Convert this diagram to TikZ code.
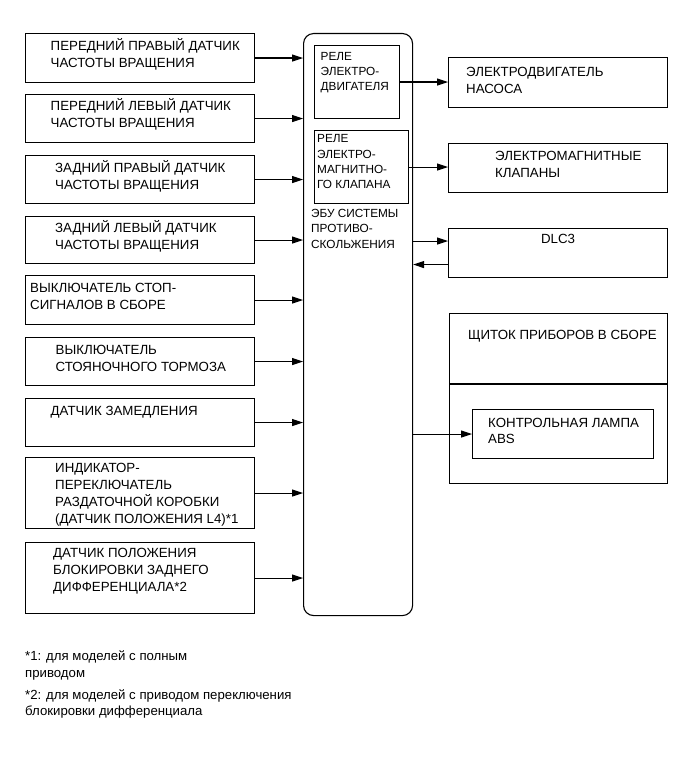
\documentclass[tikz,border=0pt]{standalone}
\usepackage{fontspec}
\setmainfont{Liberation Sans}
\usetikzlibrary{arrows.meta}
\tikzset{
  blk/.style={draw, line width=1.1pt, anchor=north west, inner sep=0pt},
  lbl/.style={anchor=base west, align=left, inner sep=0pt, font=\fontsize{13.3}{17.3}\selectfont},
  rel/.style={anchor=base west, align=left, inner sep=0pt, font=\fontsize{11.8}{15.2}\selectfont},
  note/.style={anchor=base west, align=left, inner sep=0pt, font=\fontsize{13.2}{16.5}\selectfont},
  sig/.style={line width=1.1pt, -{Triangle[length=11pt,width=7pt]}}
}

\begin{document}
\begin{tikzpicture}[x=1pt,y=-1pt]
		\useasboundingbox (0,0) rectangle (691,757);
		% ECU with its relays (text nodes sit on the baseline of their last line)
		\node[blk, rounded corners=10pt, minimum width=109pt, minimum height=582pt] (ecu) at (303,33) {};
		\node[blk, minimum width=85pt, minimum height=73pt] (rmot) at (314,45) {};
		\node[blk, minimum width=94pt, minimum height=73pt] (rsol) at (314,130) {};
		\node[rel] (trmot) at (320.5,90.5) {РЕЛЕ\\ЭЛЕКТРО-\\ДВИГАТЕЛЯ};
		\node[rel] (trsol) at (317,188.5) {РЕЛЕ\\ЭЛЕКТРО-\\МАГНИТНО-\\ГО КЛАПАНА};
		\node[rel] (tecu) at (311,248) {ЭБУ СИСТЕМЫ\\ПРОТИВО-\\СКОЛЬЖЕНИЯ};
		
		% sensors and switches
		\node[blk, minimum width=229pt, minimum height=49pt] (fr) at (25,33) {};
		\node[blk, minimum width=229pt, minimum height=48pt] (fl) at (25,94) {};
		\node[blk, minimum width=229pt, minimum height=48pt] (rr) at (25,155) {};
		\node[blk, minimum width=229pt, minimum height=47pt] (rl) at (25,216) {};
		\node[blk, minimum width=229pt, minimum height=49pt] (stop) at (25,275) {};
		\node[blk, minimum width=229pt, minimum height=48pt] (park) at (25,337) {};
		\node[blk, minimum width=229pt, minimum height=48pt] (decel) at (25,398) {};
		\node[blk, minimum width=229pt, minimum height=71pt] (tf) at (25,457) {};
		\node[blk, minimum width=229pt, minimum height=71pt] (diff) at (25,542) {};
		\node[lbl] (tfr) at (50.5,67.8) {ПЕРЕДНИЙ ПРАВЫЙ ДАТЧИК\\ЧАСТОТЫ ВРАЩЕНИЯ};
		\node[lbl] (tfl) at (50.5,127.8) {ПЕРЕДНИЙ ЛЕВЫЙ ДАТЧИК\\ЧАСТОТЫ ВРАЩЕНИЯ};
		\node[lbl] (trr) at (55,189.3) {ЗАДНИЙ ПРАВЫЙ ДАТЧИК\\ЧАСТОТЫ ВРАЩЕНИЯ};
		\node[lbl] (trl) at (55,249.3) {ЗАДНИЙ ЛЕВЫЙ ДАТЧИК\\ЧАСТОТЫ ВРАЩЕНИЯ};
		\node[lbl] (tstop) at (30,309.8) {ВЫКЛЮЧАТЕЛЬ СТОП-\\СИГНАЛОВ В СБОРЕ};
		\node[lbl] (tpark) at (55.5,371.3) {ВЫКЛЮЧАТЕЛЬ\\СТОЯНОЧНОГО ТОРМОЗА};
		\node[lbl] (tdecel) at (50.5,415.5) {ДАТЧИК ЗАМЕДЛЕНИЯ};
		\node[lbl] (ttf) at (55,523.9) {ИНДИКАТОР-\\ПЕРЕКЛЮЧАТЕЛЬ\\РАЗДАТОЧНОЙ КОРОБКИ\\(ДАТЧИК ПОЛОЖЕНИЯ L4)*1};
		\node[lbl] (tdiff) at (53,591.6) {ДАТЧИК ПОЛОЖЕНИЯ\\БЛОКИРОВКИ ЗАДНЕГО\\ДИФФЕРЕНЦИАЛА*2};
		
		% actuators and outputs
		\node[blk, minimum width=219pt, minimum height=50pt] (pump) at (448,57) {};
		\node[blk, minimum width=219pt, minimum height=49pt] (sol) at (448,143) {};
		\node[blk, minimum width=219pt, minimum height=49pt] (dlc) at (448,228) {};
		\node[blk, minimum width=218pt, minimum height=170pt] (comb) at (449,313) {};
		\node[blk, minimum width=181pt, minimum height=49pt] (abs) at (472,409) {};
		\draw[line width=1.1pt] (comb.west |- 0,384) -- (comb.east |- 0,384);
		\node[lbl] (tpump) at (466,93.8) {ЭЛЕКТРОДВИГАТЕЛЬ\\НАСОСА};
		\node[lbl] (tsol) at (495,177.3) {ЭЛЕКТРОМАГНИТНЫЕ\\КЛАПАНЫ};
		\node[lbl, anchor=base] (tdlc) at (558,243) {DLC3};
		\node[lbl] (tcomb) at (468,339) {ЩИТОК ПРИБОРОВ В СБОРЕ};
		\node[lbl, font=\fontsize{13.3}{15.6}\selectfont] (tabs) at (488,443.1) {КОНТРОЛЬНАЯ ЛАМПА\\ABS};
		
		% inputs
		\draw[sig] (fr.east) -- (fr.east -| ecu.west);
		\draw[sig] (fl.east) -- (fl.east -| ecu.west);
		\draw[sig] (rr.east) -- (rr.east -| ecu.west);
		\draw[sig] (rl.east) -- (rl.east -| ecu.west);
		\draw[sig] (stop.east) -- (stop.east -| ecu.west);
		\draw[sig] (park.east) -- (park.east -| ecu.west);
		\draw[sig] (decel.east) -- (decel.east -| ecu.west);
		\draw[sig] (tf.east) -- (tf.east -| ecu.west);
		\draw[sig] (diff.east) -- (diff.east -| ecu.west);
		
		% outputs
		\draw[sig] (rmot.east) -- (rmot.east -| pump.west);
		\draw[sig] (rsol.east) -- (rsol.east -| sol.west);
		\draw[sig] ([yshift=12pt]dlc.west -| ecu.east) -- ([yshift=12pt]dlc.west);
		\draw[sig] ([yshift=-11.5pt]dlc.west) -- ([yshift=-11.5pt]dlc.west -| ecu.east);
		\draw[sig] (abs.west -| ecu.east) -- (abs.west);
		
		% footnotes
		\node[note] (n1) at (25,677) {*1: для моделей с полным\\приводом};
		\node[note] (n2) at (25,715.5) {*2: для моделей с приводом переключения\\блокировки дифференциала};
	\end{tikzpicture}
\end{document}
